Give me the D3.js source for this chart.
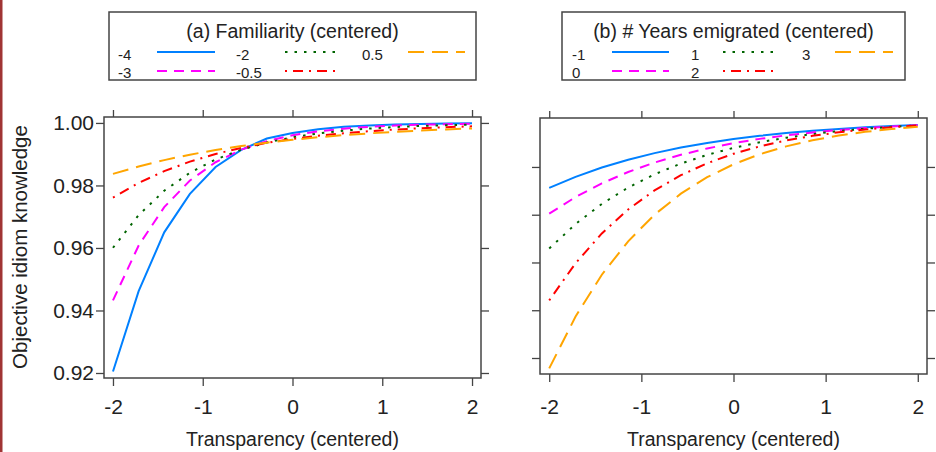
<!DOCTYPE html>
<html>
<head>
<meta charset="utf-8">
<title>Objective idiom knowledge by transparency</title>
<script src="https://cdn.jsdelivr.net/npm/d3@7"></script>
<style>
  body { margin: 0; background: #fff; }
  svg { display: block; font-family: Arial, "Liberation Sans", sans-serif; }
  .axis text { font-size: 21px; fill: #222; }
  .axis line { stroke: #444; stroke-width: 1.3; }
  .axis path { display: none; }
</style>
</head>
<body>
<script>
// transparency (centered) grid the curves were evaluated on
var transparency = [-2, -1.714, -1.429, -1.143, -0.857, -0.571, -0.286, 0,
                    0.286, 0.571, 0.857, 1.143, 1.429, 1.714, 2];

// (a) familiarity levels and predicted knowledge
var famLevels = ["-4", "-3", "-2", "-0.5", "0.5"];
var famNeg4 = [0.9205, 0.9462, 0.9650, 0.9773, 0.9859, 0.9914, 0.9950, 0.9968,
               0.9980, 0.99875, 0.99922, 0.99951, 0.99969, 0.99981, 0.99988];
var famNeg3 = [0.94321, 0.96080, 0.97306, 0.98158, 0.98743, 0.99145, 0.99418, 0.99605,
               0.99732, 0.99818, 0.99877, 0.99916, 0.99943, 0.99961, 0.99974];
var famNeg2 = [0.96007, 0.97052, 0.97831, 0.98406, 0.98831, 0.99143, 0.99373, 0.99541,
               0.99665, 0.99755, 0.99821, 0.99869, 0.99904, 0.99930, 0.99949];
var famNeg05 = [0.97611, 0.98079, 0.98457, 0.98762, 0.99006, 0.99203, 0.99361, 0.99488,
                0.99590, 0.99672, 0.99737, 0.99789, 0.99831, 0.99865, 0.99892];
var famPos05 = [0.98370, 0.98607, 0.98811, 0.98985, 0.99134, 0.99261, 0.99369, 0.99462,
                0.99541, 0.99609, 0.99667, 0.99716, 0.99758, 0.99793, 0.99824];

// (b) years emigrated levels and predicted knowledge
var yrsLevels = ["-1", "0", "1", "2", "3"];
var yrsNeg1 = [0.97125, 0.97587, 0.97977, 0.98304, 0.98580, 0.98811, 0.99005, 0.99167,
               0.99304, 0.99418, 0.99513, 0.99593, 0.99660, 0.99716, 0.99762];
var yrs0 = [0.96046, 0.96739, 0.97314, 0.97790, 0.98184, 0.98508, 0.98775, 0.98995,
            0.99176, 0.99324, 0.99446, 0.99546, 0.99628, 0.99695, 0.99750];
var yrs1 = [0.94583, 0.95610, 0.96453, 0.97136, 0.97693, 0.98142, 0.98506, 0.98799,
            0.99035, 0.99226, 0.99378, 0.99501, 0.99600, 0.99679, 0.99743];
var yrs2 = [0.92414, 0.93968, 0.95216, 0.96220, 0.97020, 0.97655, 0.98155, 0.98551,
            0.98864, 0.99108, 0.99302, 0.99453, 0.99572, 0.99665, 0.99737];
var yrs3 = [0.89566, 0.91736, 0.93487, 0.94887, 0.96003, 0.96881, 0.97571, 0.98111,
            0.98533, 0.98862, 0.99117, 0.99317, 0.99471, 0.99590, 0.99683];

var xTicks = [-2, -1, 0, 1, 2];
var yTicksA = [0.92, 0.94, 0.96, 0.98, 1.00];
var yTicksB = [0.90, 0.92, 0.94, 0.96, 0.98];

// lattice-like line styles, one per level
var lineColors = ["#0080ff", "#ff00ff", "#006400", "#ff0000", "#ffa500"];
var lineDashes = [null, "10,7", "2.5,7", "2,6,10,6", "16,8"];

var w = 936, h = 452;
var svg = d3.select("body").append("svg")
  .attr("width", w)
  .attr("height", h);

// thin dark red strip on the left edge
svg.append("rect")
  .attr("x", 0).attr("y", 0)
  .attr("width", 2.5).attr("height", h)
  .attr("fill", "#a03434");

function drawPanel(p) {
  var x = d3.scaleLinear().domain([-2.1, 2.1]).range([p.left, p.right]);
  var y = d3.scaleLinear().domain(p.yDomain).range([p.bottom, p.top]);
  var g = svg.append("g");

  // ticks on all four sides, labels only bottom (and left on panel a)
  g.append("g").attr("class", "axis")
    .attr("transform", "translate(0," + p.bottom + ")")
    .call(d3.axisBottom(x).tickValues(xTicks).tickSize(8).tickPadding(p.xPad)
      .tickFormat(function(d) { return String(d); }));
  g.append("g").attr("class", "axis")
    .attr("transform", "translate(0," + p.top + ")")
    .call(d3.axisTop(x).tickValues(xTicks).tickSize(7).tickFormat(""));
  g.append("g").attr("class", "axis")
    .attr("transform", "translate(" + p.left + ",0)")
    .call(d3.axisLeft(y).tickValues(p.yTicks).tickSize(8).tickPadding(2)
      .tickFormat(p.yLabels ? d3.format(".2f") : ""));
  g.append("g").attr("class", "axis")
    .attr("transform", "translate(" + p.right + ",0)")
    .call(d3.axisRight(y).tickValues(p.yTicks).tickSize(8).tickFormat(""));

  var line = d3.line()
    .x(function(d, i) { return x(transparency[i]); })
    .y(function(d) { return y(d); });

  p.series.forEach(function(vals, i) {
    g.append("path")
      .attr("d", line(vals))
      .attr("fill", "none")
      .attr("stroke", lineColors[i])
      .attr("stroke-width", 2)
      .attr("stroke-dasharray", lineDashes[i]);
  });

  g.append("rect")
    .attr("x", p.left).attr("y", p.top)
    .attr("width", p.right - p.left).attr("height", p.bottom - p.top)
    .attr("fill", "none")
    .attr("stroke", "#444")
    .attr("stroke-width", 1.5);

  g.append("text")
    .attr("x", (x(-2) + x(2)) / 2)
    .attr("y", 446)
    .attr("text-anchor", "middle")
    .style("font-size", "19.5px")
    .attr("fill", "#222")
    .text("Transparency (centered)");
}

function drawLegend(l) {
  var g = svg.append("g");
  g.append("rect")
    .attr("x", l.left).attr("y", 12)
    .attr("width", l.right - l.left).attr("height", 68)
    .attr("fill", "#fff")
    .attr("stroke", "#444")
    .attr("stroke-width", 1.5);
  g.append("text")
    .attr("x", (l.left + l.right) / 2)
    .attr("y", 38)
    .attr("text-anchor", "middle")
    .style("font-size", "19.5px")
    .attr("fill", "#222")
    .text(l.title);

  var rowText = [60, 78], rowLine = [52, 71];
  l.levels.forEach(function(lab, i) {
    var col = Math.floor(i / 2), row = i % 2;
    g.append("text")
      .attr("x", l.labelX[col])
      .attr("y", rowText[row])
      .style("font-size", "15px")
      .attr("fill", "#222")
      .text(lab);
    g.append("line")
      .attr("x1", l.lineX[col][0]).attr("x2", l.lineX[col][1])
      .attr("y1", rowLine[row]).attr("y2", rowLine[row])
      .attr("stroke", lineColors[i])
      .attr("stroke-width", 2)
      .attr("stroke-dasharray", lineDashes[i]);
  });
}

drawPanel({
  left: 104, right: 481, top: 117, bottom: 378, xPad: 13,
  yDomain: [0.9184, 1.0019], yTicks: yTicksA, yLabels: true,
  series: [famNeg4, famNeg3, famNeg2, famNeg05, famPos05]
});
drawPanel({
  left: 540, right: 927, top: 118, bottom: 374, xPad: 17,
  yDomain: [0.8933, 1.0005], yTicks: yTicksB, yLabels: false,
  series: [yrsNeg1, yrs0, yrs1, yrs2, yrs3]
});

drawLegend({
  left: 109, right: 476, title: "(a) Familiarity (centered)",
  levels: famLevels,
  labelX: [118, 236, 362],
  lineX: [[157, 215], [285, 340], [408, 465]]
});
drawLegend({
  left: 562, right: 905, title: "(b) # Years emigrated (centered)",
  levels: yrsLevels,
  labelX: [572, 691, 802],
  lineX: [[612, 669], [723, 779], [835, 893]]
});

// y axis title
svg.append("text")
  .attr("transform", "translate(27,247) rotate(-90)")
  .attr("text-anchor", "middle")
  .style("font-size", "20.5px")
  .attr("fill", "#222")
  .text("Objective idiom knowledge");
</script>
</body>
</html>
